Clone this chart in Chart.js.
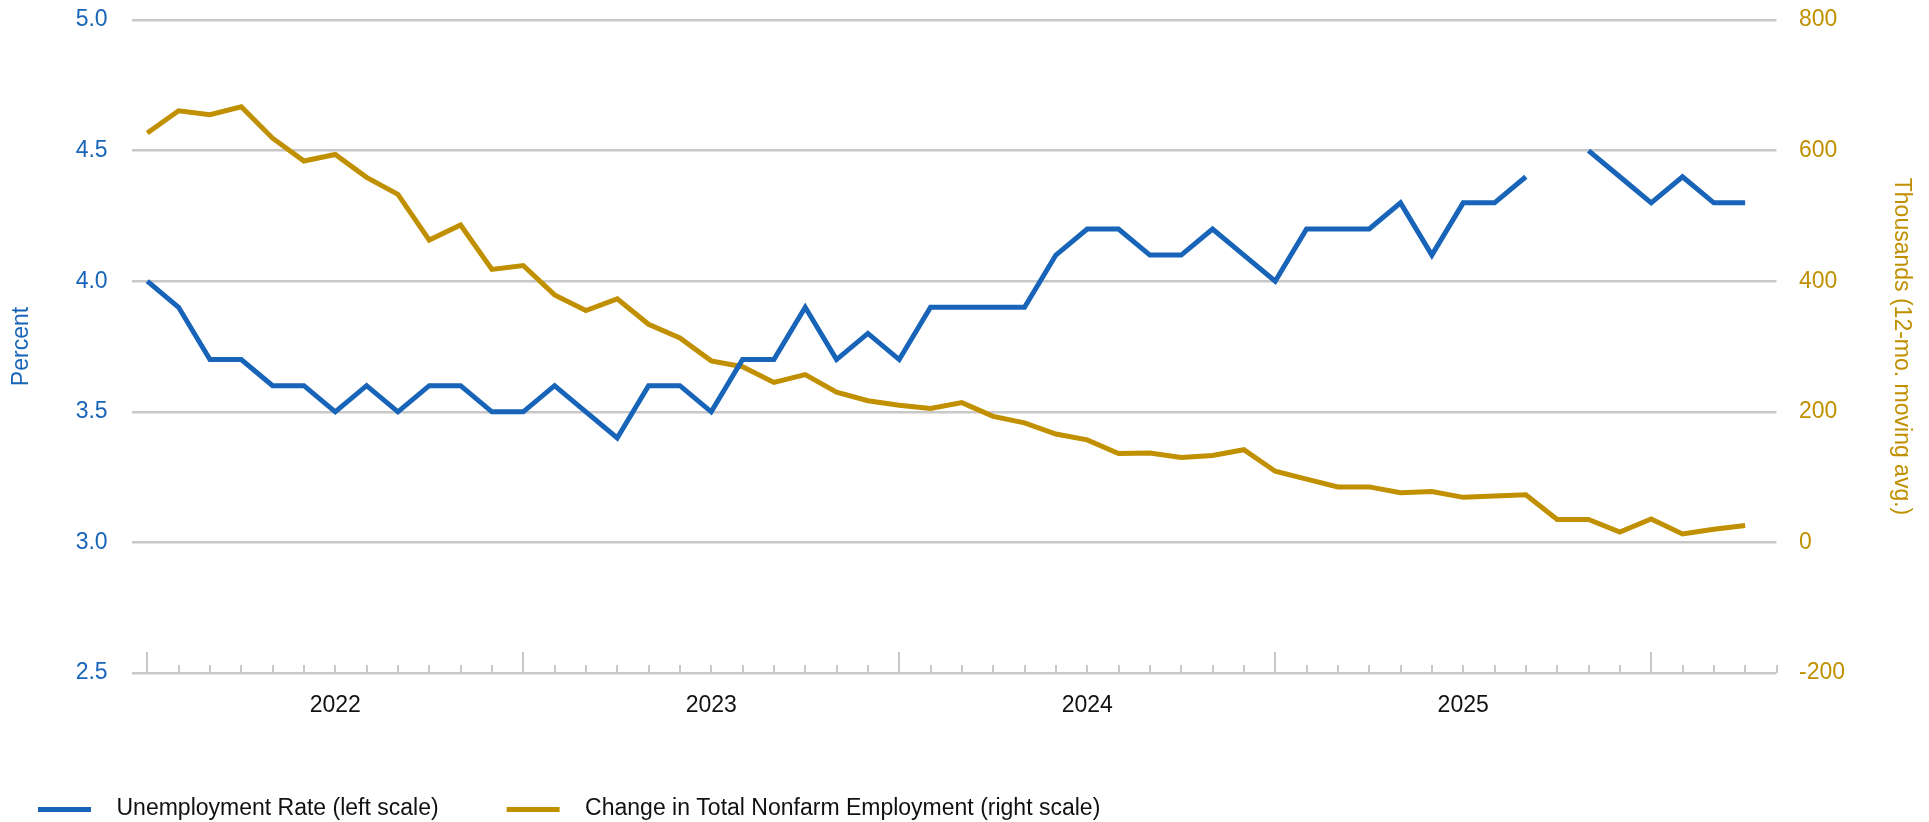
<!DOCTYPE html>
<html>
<head>
<meta charset="utf-8">
<script src="https://cdn.jsdelivr.net/npm/chart.js@4.4.1/dist/chart.umd.min.js"></script>
<style>
  html, body { margin: 0; padding: 0; background: #fff; }
  #wrap { width: 1929px; height: 822px; position: relative; }
</style>
</head>
<body>
<div id="wrap"><canvas id="chart"></canvas></div>
<script>
const months = [
  '2022-01','2022-02','2022-03','2022-04','2022-05','2022-06','2022-07','2022-08','2022-09','2022-10','2022-11','2022-12',
  '2023-01','2023-02','2023-03','2023-04','2023-05','2023-06','2023-07','2023-08','2023-09','2023-10','2023-11','2023-12',
  '2024-01','2024-02','2024-03','2024-04','2024-05','2024-06','2024-07','2024-08','2024-09','2024-10','2024-11','2024-12',
  '2025-01','2025-02','2025-03','2025-04','2025-05','2025-06','2025-07','2025-08','2025-09','2025-10','2025-11','2025-12',
  '2026-01','2026-02','2026-03','2026-04'
];

// percent, left scale (October 2025 not published)
const unemployment = [
  4.0, 3.9, 3.7, 3.7, 3.6, 3.6, 3.5, 3.6, 3.5, 3.6, 3.6, 3.5,
  3.5, 3.6, 3.5, 3.4, 3.6, 3.6, 3.5, 3.7, 3.7, 3.9, 3.7, 3.8,
  3.7, 3.9, 3.9, 3.9, 3.9, 4.1, 4.2, 4.2, 4.1, 4.1, 4.2, 4.1,
  4.0, 4.2, 4.2, 4.2, 4.3, 4.1, 4.3, 4.3, 4.4, null, 4.5, 4.4,
  4.3, 4.4, 4.3, 4.3
];

// thousands, 12-month moving average, right scale
const payrolls = [
  627, 661, 655, 667, 619, 584, 594, 559, 533, 463, 486, 418,
  424, 379, 355, 373, 334, 313, 278, 269, 245, 257, 230, 217,
  210, 205, 214, 193, 183, 166, 157, 136, 137, 130, 133, 142,
  109, 97, 85, 85, 76, 78, 69, 71, 73, 35, 35, 16,
  36, 13, 20, 26
];

const yearLabels = ['2022', '2023', '2024', '2025'];
const leftTicks = [2.5, 3.0, 3.5, 4.0, 4.5, 5.0];
const rightTicks = [-200, 0, 200, 400, 600, 800];

const BLUE = '#1764b8';
const GOLD = '#c09000';
const GRID = '#c8c8c8';
const FONT = { family: "'Liberation Sans', Arial, sans-serif", size: 23 };

// legend sample: a short thick line, drawn into a small canvas
function swatch(color) {
  const c = document.createElement('canvas');
  c.width = 115;
  c.height = 5;
  const g = c.getContext('2d');
  g.fillStyle = color;
  g.fillRect(48, 0, 53, 5);
  return c;
}
const swatches = [swatch(BLUE), swatch(GOLD)];

// monthly tick marks along the bottom, taller ones at each January
const monthTicks = {
  id: 'monthTicks',
  beforeDatasetsDraw(chart) {
    const xs = chart.scales.x;
    const bottom = chart.chartArea.bottom;
    const firstMonth = Number(months[0].slice(5)) - 1;
    const ctx = chart.ctx;
    ctx.save();
    ctx.strokeStyle = GRID;
    ctx.lineWidth = 2;
    for (let i = Math.ceil(xs.min); i <= Math.floor(xs.max); i++) {
      const px = Math.round(xs.getPixelForValue(i));
      const len = (firstMonth + i) % 12 === 0 ? 21 : 8;
      ctx.beginPath();
      ctx.moveTo(px, bottom);
      ctx.lineTo(px, bottom - len);
      ctx.stroke();
    }
    ctx.restore();
  }
};

const ctx = document.getElementById('chart').getContext('2d');
new Chart(ctx, {
  type: 'line',
  data: {
    datasets: [
      {
        label: 'Unemployment Rate (left scale)',
        data: unemployment.map((v, i) => ({ x: i, y: v })),
        yAxisID: 'yL',
        borderColor: BLUE,
        backgroundColor: BLUE,
        borderWidth: 5,
        pointRadius: 0,
        tension: 0,
        spanGaps: false
      },
      {
        label: 'Change in Total Nonfarm Employment (right scale)',
        data: payrolls.map((v, i) => ({ x: i, y: v })),
        yAxisID: 'yR',
        borderColor: GOLD,
        backgroundColor: GOLD,
        borderWidth: 5,
        pointRadius: 0,
        tension: 0
      }
    ]
  },
  options: {
    responsive: true,
    maintainAspectRatio: false,
    animation: false,
    layout: { padding: { top: 20, left: -30, right: 0, bottom: -8.5 } },
    scales: {
      x: {
        type: 'linear',
        min: -0.5,
        max: 52,
        afterBuildTicks: s => { s.ticks = yearLabels.map(y => ({ value: months.indexOf(y + '-07') })); },
        afterFit: s => { s.height = 104.5; },
        grid: { display: false, drawTicks: false },
        border: { display: false },
        ticks: {
          autoSkip: false,
          maxRotation: 0,
          padding: 19,
          color: '#111',
          font: FONT,
          callback: v => (months[v] ? months[v].slice(0, 4) : '')
        }
      },
      yL: {
        position: 'left',
        min: 2.5,
        max: 5.0,
        afterBuildTicks: s => { s.ticks = leftTicks.map(v => ({ value: v })); },
        afterFit: s => { s.width = 161.6; },
        grid: { color: GRID, lineWidth: 2.5, drawTicks: true, tickLength: 18, tickColor: 'rgba(0,0,0,0)' },
        border: { display: false },
        ticks: { color: BLUE, padding: 6, font: FONT, callback: v => v.toFixed(1) },
        title: {
          display: true,
          text: 'Percent',
          color: BLUE,
          font: FONT,
          padding: { top: 37.6, bottom: 0 }
        }
      },
      yR: {
        position: 'right',
        min: -200,
        max: 800,
        afterBuildTicks: s => { s.ticks = rightTicks.map(v => ({ value: v })); },
        afterFit: s => { s.width = 152.5; },
        grid: { display: false, drawTicks: true, tickLength: 16.5 },
        border: { display: false },
        ticks: { color: GOLD, padding: 6, font: FONT },
        title: {
          display: true,
          text: 'Thousands (12-mo. moving avg.)',
          color: GOLD,
          font: FONT,
          padding: { top: 13.5, bottom: 0 }
        }
      }
    },
    plugins: {
      legend: {
        position: 'bottom',
        align: 'start',
        labels: {
          usePointStyle: true,
          pointStyleWidth: 115,
          padding: 20,
          color: '#111',
          font: FONT,
          generateLabels(chart) {
            const items = Chart.defaults.plugins.legend.labels.generateLabels(chart);
            items.forEach((it, i) => { it.pointStyle = swatches[i]; });
            return items;
          }
        }
      },
      tooltip: { enabled: false }
    }
  },
  plugins: [monthTicks]
});
</script>
</body>
</html>
